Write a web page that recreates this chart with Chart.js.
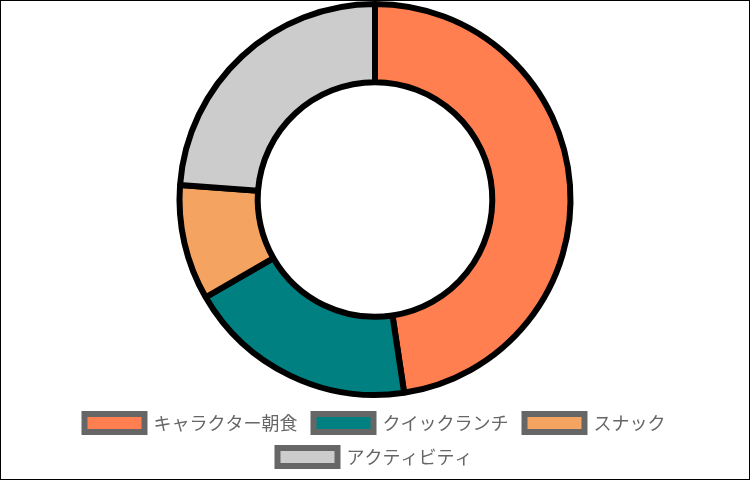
<!DOCTYPE html>
<html lang="ja">
<head>
    <meta charset="UTF-8">
    <title>メニュー構成</title>
    <script src="https://cdn.jsdelivr.net/npm/chart.js@4.4.0/dist/chart.umd.min.js"></script>
    <style>
        html, body {
            margin: 0;
            padding: 0;
            background: #fff;
        }
        .chart-box {
            width: 750px;
            height: 480px;
            border: 1px solid #000;
            box-sizing: border-box;
            position: relative;
        }
    </style>
</head>
<body>
    <div class="chart-box">
        <canvas id="myChart"></canvas>
    </div>

    <script>
        const categories = ['キャラクター朝食', 'クイックランチ', 'スナック', 'アクティビティ'];
        const values = [50, 20, 10, 25];
        const colors = ['#FF7F50', '#008080', '#F4A460', '#CCCCCC'];

        const ctx = document.getElementById('myChart').getContext('2d');
        new Chart(ctx, {
            type: 'doughnut',
            data: {
                labels: categories,
                datasets: [{
                    data: values,
                    backgroundColor: colors,
                    borderColor: '#000',
                    borderWidth: 6
                }]
            },
            options: {
                responsive: true,
                maintainAspectRatio: false,
                animation: false,
                cutout: '60%',
                layout: { padding: { top: 0, bottom: 3, left: 0, right: 0 } },
                plugins: {
                    legend: {
                        position: 'bottom',
                        labels: {
                            color: '#666',
                            boxWidth: 60,
                            boxHeight: 18,
                            padding: 16,
                            font: { family: '"Noto Sans CJK JP", sans-serif', size: 18 },
                            generateLabels: function(chart) {
                                const items = Chart.overrides.doughnut.plugins.legend.labels.generateLabels(chart);
                                items.forEach(it => {
                                    it.strokeStyle = '#666';
                                    it.lineWidth = 6;
                                    it.fontColor = '#666';
                                });
                                return items;
                            }
                        }
                    },
                    tooltip: { enabled: false }
                }
            }
        });
    </script>
</body>
</html>
